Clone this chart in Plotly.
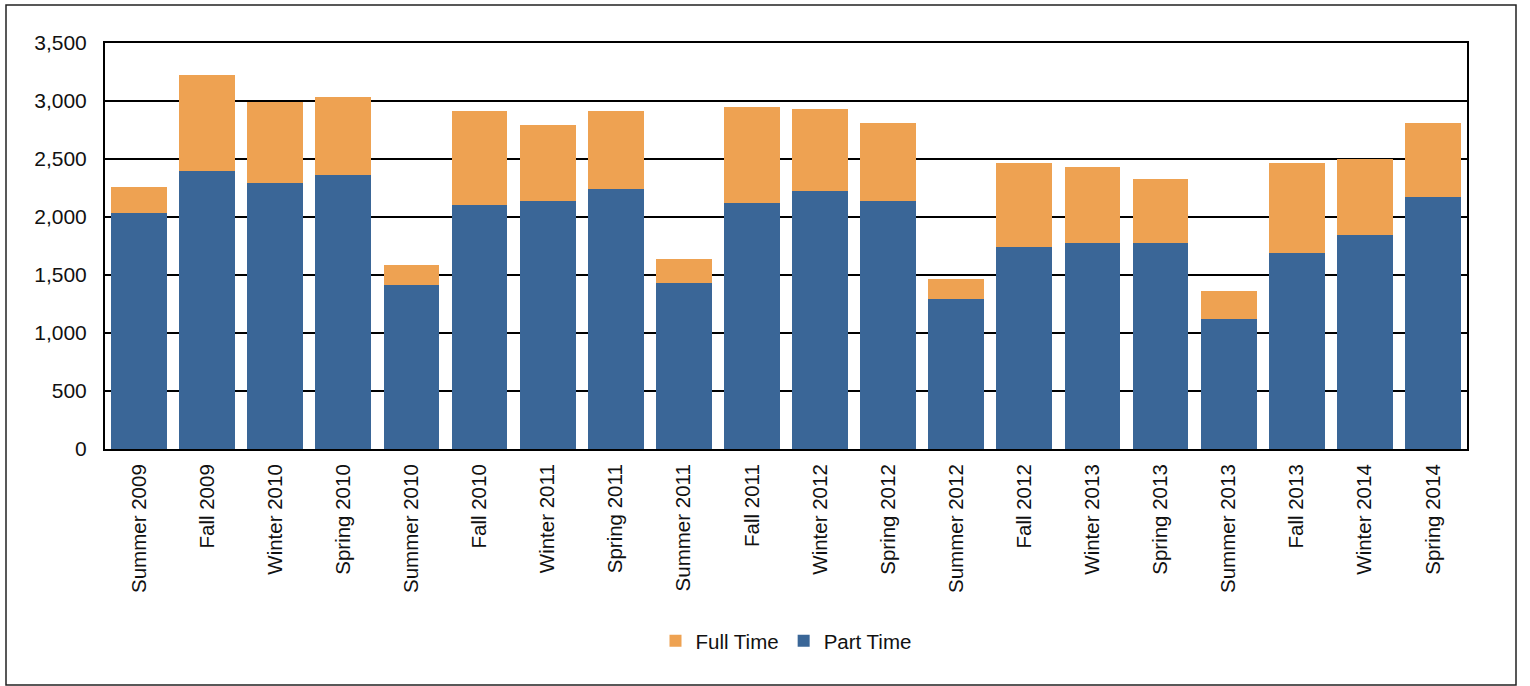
import plotly.graph_objects as go

categories = ["Summer 2009", "Fall 2009", "Winter 2010", "Spring 2010", "Summer 2010",
              "Fall 2010", "Winter 2011", "Spring 2011", "Summer 2011", "Fall 2011",
              "Winter 2012", "Spring 2012", "Summer 2012", "Fall 2012", "Winter 2013",
              "Spring 2013", "Summer 2013", "Fall 2013", "Winter 2014", "Spring 2014"]

part_time = [2032, 2394, 2291, 2359, 1411, 2101, 2135, 2239, 1428, 2118,
             2222, 2135, 1291, 1739, 1773, 1773, 1118, 1687, 1842, 2170]

full_time = [224, 828, 704, 673, 173, 810, 656, 672, 207, 828,
             707, 673, 172, 724, 656, 552, 242, 776, 655, 638]

y_ticks = [0, 500, 1000, 1500, 2000, 2500, 3000, 3500]

BLUE = "#3A6697"
ORANGE = "#EEA252"
FONT = "Liberation Sans, Arial, sans-serif"

fig = go.Figure()
fig.add_trace(go.Bar(x=categories, y=part_time, name="Part Time",
                     marker=dict(color=BLUE, line=dict(width=0))))
fig.add_trace(go.Bar(x=categories, y=full_time, name="Full Time",
                     marker=dict(color=ORANGE, line=dict(width=0))))

W, H = 1530, 686
L, R, T, B = 105, 63, 43, 237
pw, ph = W - L - R, H - T - B

def px_x(x):
    return (x - L) / pw

def px_y(y):
    return (H - B - y) / ph

fig.update_layout(
    width=W, height=H,
    barmode="stack",
    bargap=0.18,
    paper_bgcolor="white",
    plot_bgcolor="white",
    margin=dict(l=L, r=R, t=T, b=B, autoexpand=False),
    font=dict(family=FONT, size=20, color="#111111"),
    showlegend=True,
    legend=dict(orientation="h", traceorder="reversed",
                x=0.5, xanchor="center", y=px_y(641), yanchor="middle",
                font=dict(size=20.5, color="#111111"), itemwidth=30,
                bgcolor="rgba(0,0,0,0)"),
    xaxis=dict(showgrid=False, showline=True, linecolor="black", linewidth=2,
               mirror=True, tickangle=-90, ticks="", ticklabelstandoff=5,
               tickfont=dict(size=20.5, family=FONT, color="#111111"),
               zeroline=False),
    yaxis=dict(range=[0, 3500], tickvals=y_ticks, tickformat=",",
               showgrid=True, gridcolor="black", gridwidth=1.8,
               showline=True, linecolor="black", linewidth=2, mirror=True,
               ticks="", ticklabelstandoff=12, zeroline=False,
               tickfont=dict(size=21, family=FONT, color="#111111")),
    shapes=[dict(type="rect", xref="paper", yref="paper",
                 x0=px_x(6), x1=px_x(1516), y0=px_y(685), y1=px_y(5),
                 line=dict(color="#222222", width=1.5), fillcolor="rgba(0,0,0,0)",
                 layer="below")],
)

fig.write_html("out.html",
               config={"displayModeBar": False},
               post_script="document.body.style.margin='0';document.body.style.padding='0';")
